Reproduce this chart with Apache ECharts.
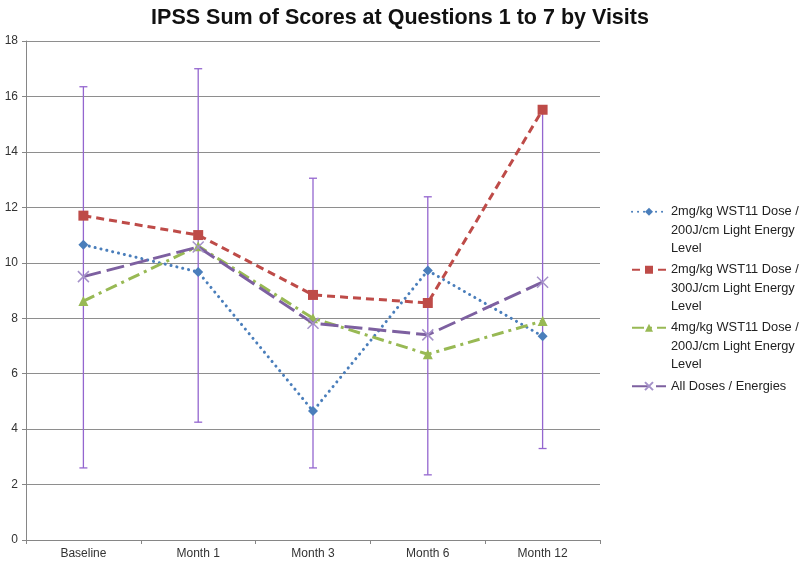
<!DOCTYPE html>
<html>
<head>
<meta charset="utf-8">
<script src="https://cdn.jsdelivr.net/npm/echarts@6/dist/echarts.min.js"></script>
<style>
html,body{margin:0;padding:0;background:#fff;}
#chart{width:800px;height:563px;}
</style>
</head>
<body>
<div id="chart"></div>
<script>
const categories = ['Baseline', 'Month 1', 'Month 3', 'Month 6', 'Month 12'];
const seriesNames = [
  '2mg/kg WST11 Dose /\n200J/cm Light Energy\nLevel',
  '2mg/kg WST11 Dose /\n300J/cm Light Energy\nLevel',
  '4mg/kg WST11 Dose /\n200J/cm Light Energy\nLevel',
  'All Doses / Energies'
];
const dose2_200 = [10.65, 9.67, 4.65, 9.72, 7.35];
const dose2_300 = [11.7, 11.0, 8.84, 8.55, 15.52];
const dose4_200 = [8.62, 10.6, 8.0, 6.7, 7.9];
const allDoses = [9.5, 10.57, 7.82, 7.4, 9.3];
const allLow = [2.6, 4.25, 2.6, 2.35, 3.3];
const allHigh = [16.35, 17.0, 13.05, 12.38, 15.5];
const yTicks = {min: 0, max: 18, interval: 2};

const FONT = "'Liberation Sans', Arial, sans-serif";
const chart = echarts.init(document.getElementById('chart'), null, {renderer: 'canvas'});

const styles = [
  {color: '#4A7EBB', width: 3, type: [0.1, 5.9], cap: 'round', symbol: 'diamond', size: 10},
  {color: '#BE4B48', width: 3, type: [8, 5], cap: 'butt', symbol: 'rect', size: 10},
  {color: '#98B954', width: 3, type: [12, 5, 3, 5], cap: 'butt', symbol: 'triangle', size: 10},
  {color: '#7D60A0', width: 3, type: [18, 6], cap: 'butt', symbol: 'path://M0,0L10,10M10,0L0,10', size: 11}
];
const dataSets = [dose2_200, dose2_300, dose4_200, allDoses];

const lineSeries = dataSets.map((d, i) => {
  const s = styles[i];
  const isX = i === 3;
  return {
    name: seriesNames[i],
    type: 'line',
    data: d,
    z: 3 + i,
    symbol: s.symbol,
    symbolSize: s.size,
    showAllSymbol: true,
    lineStyle: {color: s.color, width: s.width, type: s.type, cap: s.cap},
    itemStyle: isX ? {color: 'rgba(0,0,0,0)', borderColor: '#A592C9', borderWidth: 1.5}
                   : {color: s.color, borderColor: s.color, borderWidth: 0},
    emphasis: {disabled: true},
    animation: false
  };
});

const errSeries = {
  type: 'custom',
  name: 'err',
  z: 1,
  data: categories.map((c, i) => [i, allLow[i], allHigh[i]]),
  encode: {x: 0, y: [1, 2]},
  renderItem: function (params, api) {
    const x = api.value(0);
    const lo = api.coord([x, api.value(1)]);
    const hi = api.coord([x, api.value(2)]);
    const w = 4;
    const st = {stroke: '#9466CF', lineWidth: 1.3};
    return {
      type: 'group',
      children: [
        {type: 'line', shape: {x1: lo[0], y1: lo[1], x2: hi[0], y2: hi[1]}, style: st},
        {type: 'line', shape: {x1: hi[0] - w, y1: hi[1], x2: hi[0] + w, y2: hi[1]}, style: st},
        {type: 'line', shape: {x1: lo[0] - w, y1: lo[1], x2: lo[0] + w, y2: lo[1]}, style: st}
      ]
    };
  },
  silent: true,
  animation: false
};

const L = 18.3;
const legendTops = [161, 219, 277, 372];
const legends = seriesNames.map((n, i) => ({
  data: [n],
  left: 626,
  top: legendTops[i],
  orient: 'vertical',
  padding: 5,
  itemWidth: 34,
  itemHeight: 10,
  itemGap: 8,
  selectedMode: false,
  formatter: i < 3 ? (name => '\n\n' + name) : (name => name),
  textStyle: {fontFamily: FONT, fontSize: 12.8, color: '#222', lineHeight: L}
}));

chart.setOption({
  backgroundColor: '#ffffff',
  animation: false,
  title: {
    text: 'IPSS Sum of Scores at Questions 1 to 7 by Visits',
    left: 'center',
    top: 2,
    textStyle: {fontFamily: FONT, fontSize: 21.5, fontWeight: 'bold', color: '#111'}
  },
  legend: legends,
  grid: {left: 26, right: 200, top: 41, bottom: 23, containLabel: false},
  xAxis: {
    type: 'category',
    data: categories,
    boundaryGap: true,
    axisLine: {lineStyle: {color: '#868686', width: 1}},
    axisTick: {show: true, length: 4, inside: false, alignWithLabel: false, lineStyle: {color: '#868686'}},
    axisLabel: {fontFamily: FONT, fontSize: 12, color: '#333', margin: 8},
    splitLine: {show: false}
  },
  yAxis: {
    type: 'value',
    min: yTicks.min, max: yTicks.max, interval: yTicks.interval,
    axisLine: {show: true, lineStyle: {color: '#868686', width: 1}},
    axisTick: {show: true, length: 4, lineStyle: {color: '#868686'}},
    axisLabel: {fontFamily: FONT, fontSize: 12, color: '#333', margin: 8},
    splitLine: {show: true, lineStyle: {color: '#8E8E8E', width: 1}}
  },
  series: [errSeries].concat(lineSeries)
});
</script>
</body>
</html>
